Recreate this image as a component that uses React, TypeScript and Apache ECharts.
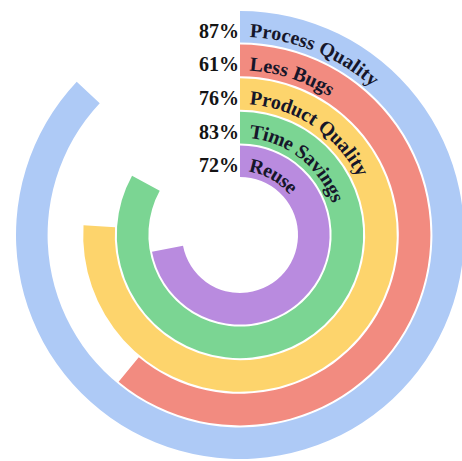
import React, { useEffect, useRef } from 'react';
import * as echarts from 'echarts';

const categories = ['Reuse', 'Time Savings', 'Product Quality', 'Less Bugs', 'Process Quality'];
const values = [72, 83, 76, 61, 87];
const colors = ['#b98bdf', '#7bd593', '#fdd46c', '#f28b80', '#aecaf6'];

const W = 462;
const H = 461;
const CX = 240;
const CY = 235;
const R0 = 57;
const R1 = 225;
const FAMILY = '"Liberation Serif", "Times New Roman", serif';
const NAME_SIZE = 20;
const PCT_SIZE = 20;

function ringMid(i: number) {
  return R0 + ((R1 - R0) * (i + 0.5)) / categories.length;
}

function curvedText(text: string, radius: number, startArc: number, fontSize: number, spacing: number) {
  const ctx = document.createElement('canvas').getContext('2d') as CanvasRenderingContext2D;
  ctx.font = `bold ${fontSize}px ${FAMILY}`;
  const els: any[] = [];
  let s = startArc;
  for (const ch of text) {
    const w = ctx.measureText(ch).width;
    const theta = (s + w / 2) / radius;
    els.push({
      type: 'text',
      x: CX + radius * Math.sin(theta),
      y: CY - radius * Math.cos(theta),
      rotation: -theta,
      silent: true,
      z: 100,
      style: {
        text: ch,
        fill: '#16162a',
        fontSize,
        fontWeight: 'bold',
        fontFamily: FAMILY,
        align: 'center',
        verticalAlign: 'middle',
      },
    });
    s += w + spacing;
  }
  return els;
}

export default function App() {
  const ref = useRef<HTMLDivElement>(null);
  useEffect(() => {
    if (!ref.current) return;
    const chart = echarts.init(ref.current, null, { renderer: 'svg' });
    const graphics: any[] = [];
    categories.forEach((name, i) => {
      const r = ringMid(i);
      graphics.push({
        type: 'text',
        x: CX - 1,
        y: CY - r + 4,
        silent: true,
        z: 100,
        style: {
          text: values[i] + '%',
          fill: '#141414',
          fontSize: PCT_SIZE,
          fontWeight: 'bold',
          fontFamily: FAMILY,
          align: 'right',
          verticalAlign: 'middle',
        },
      });
      graphics.push(...curvedText(name, r - 3, 10, NAME_SIZE, 0.4));
    });
    chart.setOption({
      animation: false,
      backgroundColor: '#fff',
      polar: { center: [CX, CY], radius: [R0, R1] },
      angleAxis: {
        type: 'value',
        min: 0,
        max: 100,
        startAngle: 90,
        clockwise: true,
        show: false,
      },
      radiusAxis: {
        type: 'category',
        data: categories,
        show: false,
      },
      series: [
        {
          type: 'bar',
          coordinateSystem: 'polar',
          barCategoryGap: '6%',
          data: values.map((v, i) => ({ value: v, itemStyle: { color: colors[i] } })),
          silent: true,
        },
      ],
      graphic: graphics,
    });
    return () => chart.dispose();
  }, []);
  return (
    <div
      ref={ref}
      style={{ position: 'fixed', left: 0, top: 0, width: W, height: H }}
    />
  );
}
